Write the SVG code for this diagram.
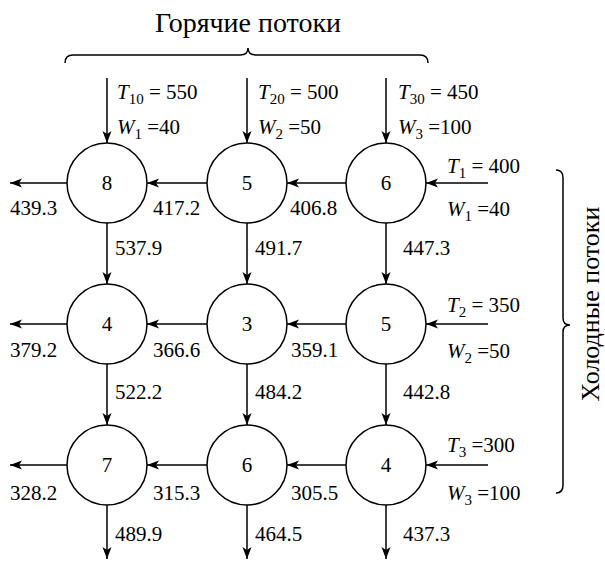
<svg xmlns="http://www.w3.org/2000/svg" width="605" height="561" viewBox="0 0 605 561" font-family="'Liberation Serif', 'DejaVu Serif', 'Times New Roman', serif">
<style>
text{font-family:'Liberation Serif','DejaVu Serif','Times New Roman',serif;fill:#000}
.t{font-size:21px}
.n{font-size:21px;text-anchor:middle}
.h{font-size:26px}
.i{font-style:italic}
.s{font-size:15px}
circle{fill:#fff;stroke:#000;stroke-width:1.5}
.c line{stroke:#000;stroke-width:1.5;marker-end:url(#a)}
.b{fill:none;stroke:#000;stroke-width:1.5}
</style>
<defs>
<marker id="a" markerUnits="userSpaceOnUse" markerWidth="13" markerHeight="10" refX="12" refY="4.5" orient="auto">
<path d="M0,0 L12,4.5 L0,9 L3,4.5 z" fill="#000"/>
</marker>
</defs>
<rect width="605" height="561" fill="#fff"/>
<text class="h" x="248" y="32" text-anchor="middle" style="font-size:28px">Горячие потоки</text>
<path class="b" d="M65,63 Q65,55 73,55 L240,55 Q248,55 248,48 Q248,55 256,55 L420,55 Q428,55 428,63"/>
<path class="b" d="M556,170 Q563,170 563,178 L563,318 Q563,325 570,325 Q563,325 563,332 L563,485 Q563,493 556,493"/>
<text class="h" transform="translate(599,304) rotate(-90)" text-anchor="middle">Холодные потоки</text>
<g class="c" id="connectors">
<line x1="107" y1="78" x2="107" y2="143"/>
<line x1="247" y1="78" x2="247" y2="143"/>
<line x1="386" y1="78" x2="386" y2="143"/>
<line x1="488" y1="183" x2="426" y2="183"/>
<line x1="346" y1="183" x2="287" y2="183"/>
<line x1="207" y1="183" x2="147" y2="183"/>
<line x1="67" y1="183" x2="10" y2="183"/>
<line x1="107" y1="223" x2="107" y2="284"/>
<line x1="247" y1="223" x2="247" y2="284"/>
<line x1="386" y1="223" x2="386" y2="284"/>
<line x1="488" y1="324" x2="426" y2="324"/>
<line x1="346" y1="324" x2="287" y2="324"/>
<line x1="207" y1="324" x2="147" y2="324"/>
<line x1="67" y1="324" x2="10" y2="324"/>
<line x1="107" y1="364" x2="107" y2="425"/>
<line x1="247" y1="364" x2="247" y2="425"/>
<line x1="386" y1="364" x2="386" y2="425"/>
<line x1="488" y1="465" x2="426" y2="465"/>
<line x1="346" y1="465" x2="287" y2="465"/>
<line x1="207" y1="465" x2="147" y2="465"/>
<line x1="67" y1="465" x2="10" y2="465"/>
<line x1="107" y1="505" x2="107" y2="559"/>
<line x1="247" y1="505" x2="247" y2="559"/>
<line x1="386" y1="505" x2="386" y2="559"/>
</g>
<g id="n11"><circle cx="107" cy="183" r="40"/><text class="n" x="107" y="190">8</text></g>
<g id="n12"><circle cx="247" cy="183" r="40"/><text class="n" x="247" y="190">5</text></g>
<g id="n13"><circle cx="386" cy="183" r="40"/><text class="n" x="386" y="190">6</text></g>
<g id="n21"><circle cx="107" cy="324" r="40"/><text class="n" x="107" y="331">4</text></g>
<g id="n22"><circle cx="247" cy="324" r="40"/><text class="n" x="247" y="331">3</text></g>
<g id="n23"><circle cx="386" cy="324" r="40"/><text class="n" x="386" y="331">5</text></g>
<g id="n31"><circle cx="107" cy="465" r="40"/><text class="n" x="107" y="472">7</text></g>
<g id="n32"><circle cx="247" cy="465" r="40"/><text class="n" x="247" y="472">6</text></g>
<g id="n33"><circle cx="386" cy="465" r="40"/><text class="n" x="386" y="472">4</text></g>
<g id="labels">
<text class="t" x="117" y="99"><tspan class="i">T</tspan><tspan class="s" dy="5">10</tspan><tspan dy="-5"> = 550</tspan></text>
<text class="t" x="117" y="134"><tspan class="i">W</tspan><tspan class="s" dy="5">1</tspan><tspan dy="-5"> =40</tspan></text>
<text class="t" x="258" y="99"><tspan class="i">T</tspan><tspan class="s" dy="5">20</tspan><tspan dy="-5"> = 500</tspan></text>
<text class="t" x="258" y="134"><tspan class="i">W</tspan><tspan class="s" dy="5">2</tspan><tspan dy="-5"> =50</tspan></text>
<text class="t" x="398" y="99"><tspan class="i">T</tspan><tspan class="s" dy="5">30</tspan><tspan dy="-5"> = 450</tspan></text>
<text class="t" x="398" y="134"><tspan class="i">W</tspan><tspan class="s" dy="5">3</tspan><tspan dy="-5"> =100</tspan></text>
<text class="t" x="447" y="173"><tspan class="i">T</tspan><tspan class="s" dy="5">1</tspan><tspan dy="-5"> = 400</tspan></text>
<text class="t" x="447" y="216"><tspan class="i">W</tspan><tspan class="s" dy="5">1</tspan><tspan dy="-5"> =40</tspan></text>
<text class="t" x="447" y="312"><tspan class="i">T</tspan><tspan class="s" dy="5">2</tspan><tspan dy="-5"> = 350</tspan></text>
<text class="t" x="447" y="358"><tspan class="i">W</tspan><tspan class="s" dy="5">2</tspan><tspan dy="-5"> =50</tspan></text>
<text class="t" x="447" y="452"><tspan class="i">T</tspan><tspan class="s" dy="5">3</tspan><tspan dy="-5"> =300</tspan></text>
<text class="t" x="447" y="500"><tspan class="i">W</tspan><tspan class="s" dy="5">3</tspan><tspan dy="-5"> =100</tspan></text>
<text class="t" x="10" y="215">439.3</text>
<text class="t" x="153" y="215">417.2</text>
<text class="t" x="290" y="215">406.8</text>
<text class="t" x="115" y="255">537.9</text>
<text class="t" x="255" y="255">491.7</text>
<text class="t" x="403" y="255">447.3</text>
<text class="t" x="10" y="357">379.2</text>
<text class="t" x="153" y="357">366.6</text>
<text class="t" x="291" y="357">359.1</text>
<text class="t" x="115" y="399">522.2</text>
<text class="t" x="255" y="399">484.2</text>
<text class="t" x="403" y="399">442.8</text>
<text class="t" x="10" y="500">328.2</text>
<text class="t" x="153" y="500">315.3</text>
<text class="t" x="291" y="500">305.5</text>
<text class="t" x="115" y="541">489.9</text>
<text class="t" x="255" y="541">464.5</text>
<text class="t" x="403" y="541">437.3</text>
</g>
</svg>
